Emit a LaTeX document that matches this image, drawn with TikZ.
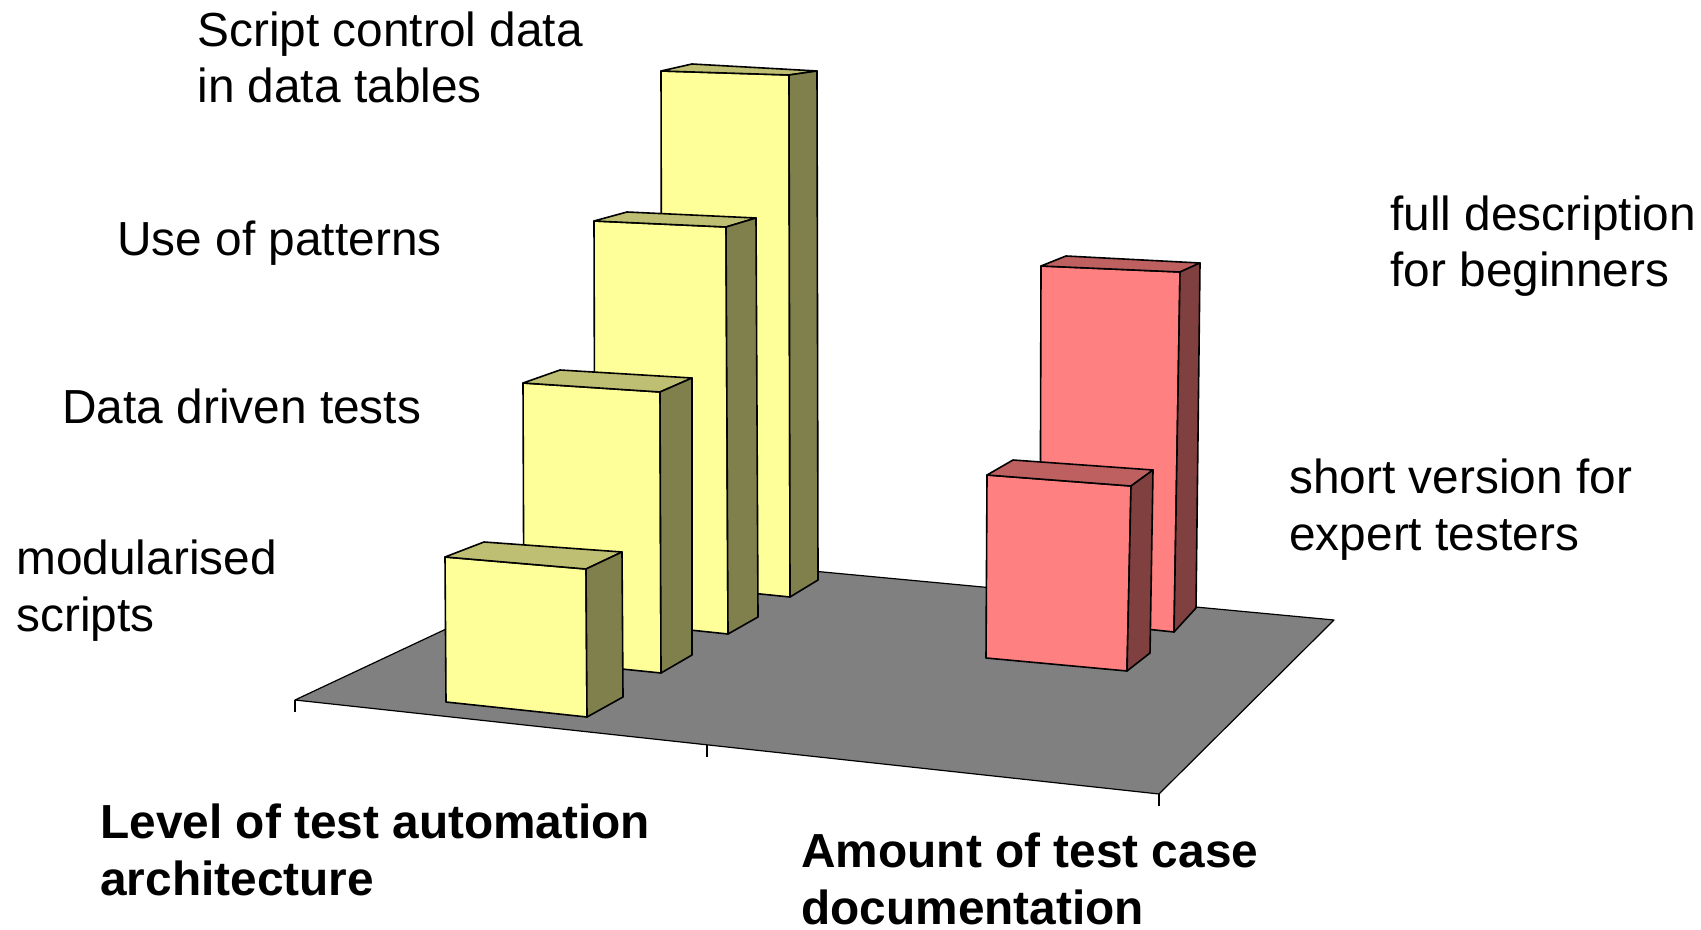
\documentclass[tikz,border=0pt]{standalone}
\usepackage{fontspec}
\setmainfont{Liberation Sans}
\definecolor{floorgray}{RGB}{128,128,128}
\definecolor{yfront}{RGB}{255,255,153}
\definecolor{ytop}{RGB}{191,191,115}
\definecolor{yside}{RGB}{128,128,77}
\definecolor{rfront}{RGB}{255,128,128}
\definecolor{rtop}{RGB}{191,96,96}
\definecolor{rside}{RGB}{128,64,64}
\begin{document}
\begin{tikzpicture}[x=0.5pt,y=-0.5pt,line join=round,
	lbl/.style={anchor=base west,inner sep=0pt,align=left,font=\fontsize{23.9}{28.2}\selectfont},
	axislbl/.style={lbl,font=\fontsize{23.9}{28.2}\selectfont\bfseries},
	face/.style={draw=black,line width=0.8pt}]
	\useasboundingbox (0,0) rectangle (1701,930);
	\filldraw[fill=floorgray,line width=0.6pt] (295,700) -- (610,552) -- (1334,620) -- (1159,794) -- cycle;
	\draw[line width=0.6pt] (295,700) -- +(0,12);
	\draw[line width=0.6pt] (707,745) -- +(0,12);
	\draw[line width=0.6pt] (1159,794) -- +(0,12);
	% yellow bars, back to front
	\filldraw[face,fill=yfront] (661,71) -- (789,75) -- (790,597) -- (662,584) -- cycle;
	\filldraw[face,fill=ytop] (661,71) -- (692,64) -- (817,71) -- (789,75) -- cycle;
	\filldraw[face,fill=yside] (789,75) -- (817,71) -- (818,580) -- (790,597) -- cycle;
	\filldraw[face,fill=yfront] (594,221) -- (726,227) -- (728,634) -- (595,620) -- cycle;
	\filldraw[face,fill=ytop] (594,221) -- (627,212) -- (756,218) -- (726,227) -- cycle;
	\filldraw[face,fill=yside] (726,227) -- (756,218) -- (758,617) -- (728,634) -- cycle;
	\filldraw[face,fill=yfront] (523,383) -- (660,392) -- (661,673) -- (524,659) -- cycle;
	\filldraw[face,fill=ytop] (523,383) -- (560,370) -- (692,378) -- (660,392) -- cycle;
	\filldraw[face,fill=yside] (660,392) -- (692,378) -- (692,655) -- (661,673) -- cycle;
	\filldraw[face,fill=yfront] (445,557) -- (586,569) -- (587,717) -- (446,702) -- cycle;
	\filldraw[face,fill=ytop] (445,557) -- (484,542) -- (622,552) -- (586,569) -- cycle;
	\filldraw[face,fill=yside] (586,569) -- (622,552) -- (623,697) -- (587,717) -- cycle;
	% red bars
	\filldraw[face,fill=rfront] (1041,266) -- (1180,272) -- (1174,632) -- (1040,618) -- cycle;
	\filldraw[face,fill=rtop] (1041,266) -- (1066,256) -- (1200,263) -- (1180,272) -- cycle;
	\filldraw[face,fill=rside] (1180,272) -- (1200,263) -- (1196,608) -- (1174,632) -- cycle;
	\filldraw[face,fill=rfront] (987,475) -- (1131,486) -- (1127,671) -- (986,658) -- cycle;
	\filldraw[face,fill=rtop] (987,475) -- (1013,460) -- (1153,470) -- (1131,486) -- cycle;
	\filldraw[face,fill=rside] (1131,486) -- (1153,470) -- (1150,653) -- (1127,671) -- cycle;
	% labels (base = last line)
	\node[lbl] (scriptctl) at (197,103) {Script control data\\in data tables};
	\node[lbl] (patterns) at (117,256) {Use of patterns};
	\node[lbl] (datadriven) at (62,423) {Data driven tests};
	\node[lbl] (modular) at (16,631) {modularised\\scripts};
	\node[lbl] (fulldesc) at (1390,287) {full description\\for beginners};
	\node[lbl] (shortver) at (1289,550) {short version for\\expert testers};
	\node[axislbl] (levelaxis) at (100,895) {Level of test automation\\architecture};
	\node[axislbl] (amountaxis) at (801,924) {Amount of test case\\documentation};
\end{tikzpicture}
\end{document}
